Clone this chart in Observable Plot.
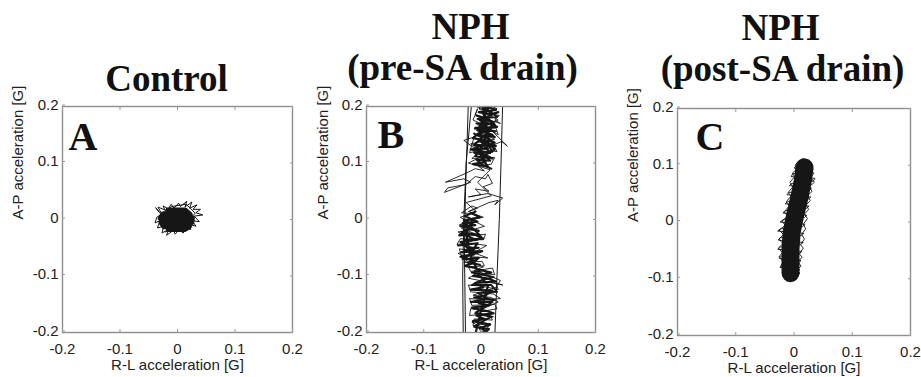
<!DOCTYPE html>
<html><head><meta charset="utf-8">
<script src="https://cdn.jsdelivr.net/npm/d3@7"></script>
<script src="https://cdn.jsdelivr.net/npm/@observablehq/plot@0.6"></script>
<style>
html,body{margin:0;padding:0;background:#fff;}
#wrap{position:relative;width:921px;height:377px;overflow:hidden;background:#fff;}
.panel{position:absolute;top:0;}
</style></head><body><div id="wrap"></div>
<script>
// ---- tick values / labels ----
const ticks = [-0.2, -0.1, 0, 0.1, 0.2];
const xLabel = "R-L acceleration [G]";
const yLabel = "A-P acceleration [G]";
const panelLetters = ["A", "B", "C"];
const titleTop = ["", "NPH", "NPH"];
const titleBottom = ["Control", "(pre-SA drain)", "(post-SA drain)"];

// ---- Panel A (Control) : [R-L, A-P] in G ----
const aCore = [[-0.016,0.016],[0.013,0.016],[0.021,0.009],[-0.025,0.009],[-0.029,0.002],[0.025,0.002],[0.024,-0.005],[-0.028,-0.005],[-0.023,-0.012],[0.020,-0.012],[0.012,-0.017],[-0.015,-0.017]];
const aFuzz = [[-0.032,0.013],[-0.038,0.021],[-0.028,0.009],[-0.036,0.004],[-0.039,-0.006],[-0.030,-0.002],[-0.035,-0.015],[-0.024,-0.012],[-0.027,-0.024],[-0.015,-0.017],[-0.019,-0.028],[-0.007,-0.019],[-0.004,-0.026],[0.003,-0.018],[0.010,-0.024],[0.013,-0.014],[0.023,-0.018],[0.020,-0.008],[0.032,-0.012],[0.026,-0.002],[0.038,-0.004],[0.029,0.006],[0.044,0.008],[0.032,0.012],[0.040,0.018],[0.027,0.018],[0.034,0.026],[0.021,0.020],[0.025,0.031],[0.013,0.022],[0.016,0.032],[0.005,0.023],[0.002,0.029],[-0.006,0.020],[-0.011,0.027],[-0.016,0.019],[-0.025,0.024],[-0.022,0.017],[-0.034,0.022],[-0.028,0.011],[-0.010,0.023],[0.015,0.027],[0.031,0.011],[0.005,-0.014],[-0.021,-0.022]];

// ---- Panel B (NPH pre-SA drain) ----
const bCoreTop = [[0.004,0.202],[0.026,0.194],[-0.004,0.190],[0.018,0.186],[0.030,0.190],[0.006,0.180],[-0.008,0.184],[0.022,0.172],[0.010,0.168],[-0.002,0.176],[0.028,0.164],[-0.010,0.162],[0.014,0.156],[0.020,0.166],[-0.004,0.150],[0.024,0.146],[0.002,0.158],[-0.014,0.144],[0.018,0.138],[0.008,0.150],[-0.012,0.132],[0.026,0.130],[-0.002,0.140],[0.012,0.126],[-0.018,0.124],[0.016,0.118],[0.004,0.132],[-0.010,0.112],[0.020,0.108],[-0.004,0.120],[0.008,0.102],[-0.014,0.098],[0.012,0.094],[0.000,0.110],[0.024,0.124],[0.006,0.142],[0.016,0.160],[0.000,0.170],[0.012,0.196],[-0.006,0.200]];
const bCoreTop2 = [[0.020,0.204],[-0.002,0.196],[0.014,0.192],[0.028,0.182],[-0.006,0.178],[0.016,0.174],[0.004,0.186],[0.024,0.168],[-0.008,0.170],[0.010,0.160],[0.026,0.156],[-0.006,0.158],[0.020,0.150],[0.000,0.146],[-0.012,0.152],[0.014,0.142],[0.024,0.136],[-0.008,0.128],[0.010,0.136],[0.020,0.120],[-0.012,0.118],[0.006,0.114],[0.016,0.104],[-0.008,0.106],[0.004,0.096],[0.018,0.090]];
const bCoreMid = [[-0.018,0.012],[-0.002,0.004],[-0.030,-0.002],[-0.010,-0.010],[-0.036,-0.012],[-0.004,-0.020],[-0.024,-0.016],[-0.038,-0.028],[-0.012,-0.026],[0.004,-0.034],[-0.030,-0.036],[-0.020,-0.044],[-0.040,-0.046],[-0.006,-0.042],[-0.014,-0.054],[-0.034,-0.058],[0.002,-0.056],[-0.022,-0.064],[-0.032,-0.070],[-0.004,-0.068],[-0.016,-0.078],[-0.028,-0.082],[-0.008,-0.086],[-0.020,-0.060],[-0.026,-0.024],[-0.014,0.002]];
const bCoreMid2 = [[-0.010,0.014],[-0.028,0.006],[-0.006,-0.004],[-0.032,-0.006],[-0.016,-0.014],[-0.002,-0.028],[-0.034,-0.022],[-0.018,-0.032],[-0.006,-0.036],[-0.036,-0.040],[-0.024,-0.050],[-0.004,-0.050],[-0.028,-0.054],[-0.012,-0.062],[-0.036,-0.066],[-0.010,-0.074],[-0.024,-0.076],[-0.002,-0.080]];
const bCoreLow = [[-0.006,-0.088],[0.018,-0.094],[-0.014,-0.100],[0.010,-0.104],[0.026,-0.110],[-0.010,-0.112],[0.004,-0.120],[-0.018,-0.124],[0.020,-0.126],[0.008,-0.134],[-0.012,-0.138],[0.024,-0.142],[-0.004,-0.148],[0.014,-0.152],[-0.016,-0.156],[0.010,-0.162],[0.022,-0.166],[-0.008,-0.170],[0.006,-0.176],[-0.014,-0.180],[0.016,-0.186],[-0.002,-0.192],[0.010,-0.198],[-0.010,-0.204],[0.000,-0.160],[0.012,-0.118],[-0.004,-0.096]];
const bCoreLow2 = [[0.004,-0.090],[-0.016,-0.094],[0.022,-0.102],[0.000,-0.108],[-0.016,-0.116],[0.018,-0.116],[0.028,-0.128],[-0.006,-0.130],[0.012,-0.140],[-0.018,-0.146],[0.020,-0.146],[0.004,-0.156],[-0.010,-0.166],[0.018,-0.172],[0.000,-0.182],[-0.012,-0.190],[0.014,-0.194],[0.002,-0.204]];
const bScribble = [[0.010,0.205],[0.028,0.196],[0.012,0.188],[0.032,0.184],[0.024,0.176],[0.034,0.170],[0.008,0.178],[-0.010,0.186],[-0.006,0.196],[-0.014,0.176],[0.004,0.168],[-0.012,0.160],[0.026,0.162],[0.030,0.150],[0.020,0.156],[0.046,0.130],[0.036,0.138],[0.022,0.132],[0.028,0.120],[-0.014,0.128],[-0.030,0.140],[-0.012,0.146],[-0.020,0.118],[0.002,0.124],[-0.016,0.108],[0.024,0.110],[0.018,0.098],[-0.004,0.094],[0.006,0.086],[-0.010,0.090],[-0.026,0.082],[-0.062,0.066],[-0.030,0.072],[-0.018,0.066],[-0.064,0.048],[-0.058,0.056],[-0.026,0.062],[-0.010,0.076],[0.008,0.072],[0.012,0.080],[0.020,0.064],[0.004,0.058],[0.014,0.050],[-0.010,0.054],[0.000,0.044],[-0.022,0.040],[0.012,0.046],[0.038,0.038],[0.024,0.026],[0.030,0.034],[0.014,0.030],[-0.022,0.014],[-0.006,0.020],[-0.016,0.024],[-0.034,0.012],[-0.012,0.010],[0.004,0.004],[-0.024,-0.002],[-0.038,-0.010],[-0.010,-0.004],[0.006,-0.012],[-0.014,-0.018],[-0.040,-0.022],[-0.026,-0.030],[0.008,-0.026],[0.004,-0.036],[-0.036,-0.034],[-0.042,-0.044],[-0.018,-0.042],[0.010,-0.046],[-0.008,-0.056],[-0.038,-0.052],[-0.034,-0.064],[-0.010,-0.060],[0.012,-0.068],[-0.016,-0.066],[-0.030,-0.076],[0.002,-0.074],[0.006,-0.082],[-0.022,-0.084],[-0.018,-0.092],[0.020,-0.086],[0.024,-0.098],[-0.006,-0.094],[-0.022,-0.104],[0.008,-0.110],[0.038,-0.116],[0.026,-0.112],[0.030,-0.124],[0.002,-0.118],[-0.022,-0.116],[-0.018,-0.128],[0.022,-0.132],[0.034,-0.140],[0.010,-0.142],[-0.020,-0.140],[-0.016,-0.152],[0.024,-0.150],[0.028,-0.158],[0.006,-0.162],[-0.018,-0.158],[-0.020,-0.170],[0.014,-0.166],[0.020,-0.178],[-0.012,-0.176],[-0.014,-0.188],[0.016,-0.184],[0.010,-0.194],[-0.004,-0.192],[0.004,-0.205]];
const bScribble2 = [[-0.008,-0.205],[0.012,-0.196],[-0.016,-0.182],[0.022,-0.172],[-0.010,-0.164],[0.030,-0.146],[0.018,-0.138],[-0.014,-0.134],[0.026,-0.120],[0.034,-0.108],[0.016,-0.100],[-0.012,-0.090],[0.004,-0.084],[-0.020,-0.072],[-0.040,-0.060],[-0.014,-0.050],[-0.030,-0.044],[0.002,-0.030],[-0.034,-0.016],[-0.020,-0.006],[-0.036,0.004],[-0.008,0.014],[-0.026,0.030],[0.018,0.042],[-0.006,0.066],[0.016,0.088],[-0.022,0.100],[0.010,0.116],[-0.018,0.134],[0.024,0.142],[-0.008,0.158],[0.030,0.176],[0.004,0.190],[0.026,0.204]];
const bJumps = [[-0.016,0.21],[-0.026,0.1],[-0.030,0.0],[-0.032,-0.1],[-0.031,-0.21],[0.024,-0.21],[0.028,-0.1],[0.032,0.0],[0.035,0.1],[0.038,0.21],[-0.022,0.21],[-0.027,0.05],[-0.029,-0.05],[-0.027,-0.21]];

// ---- Panel C (NPH post-SA drain) ----
const cCore = [[0.018,0.096],[0.015,0.072],[0.009,0.042],[0.002,0.012],[-0.004,-0.018],[-0.006,-0.048],[-0.006,-0.076],[-0.006,-0.090]];
const cZig = [[0.014,0.110],[0.024,0.106],[0.030,0.102],[0.004,0.099],[0.000,0.095],[0.033,0.092],[0.028,0.088],[-0.002,0.085],[-0.005,0.080],[0.036,0.077],[0.033,0.072],[-0.004,0.068],[-0.008,0.064],[0.030,0.060],[0.027,0.056],[-0.009,0.052],[-0.012,0.048],[0.029,0.044],[0.024,0.040],[-0.011,0.036],[-0.015,0.032],[0.026,0.028],[0.021,0.024],[-0.014,0.020],[-0.019,0.016],[0.022,0.012],[0.018,0.008],[-0.017,0.004],[-0.024,0.000],[0.019,-0.004],[0.015,-0.008],[-0.022,-0.012],[-0.028,-0.016],[0.017,-0.020],[0.013,-0.024],[-0.024,-0.028],[-0.027,-0.032],[0.016,-0.036],[0.011,-0.040],[-0.023,-0.044],[-0.028,-0.048],[0.013,-0.052],[0.010,-0.056],[-0.022,-0.060],[-0.025,-0.064],[0.012,-0.068],[0.008,-0.072],[-0.021,-0.076],[-0.024,-0.080],[0.010,-0.084],[0.006,-0.088],[-0.018,-0.092],[-0.019,-0.096],[0.004,-0.099],[0.000,-0.103],[-0.012,-0.104]];
const cEdge = [[0.004,-0.098],[0.010,-0.090],[0.005,-0.084],[0.012,-0.078],[0.007,-0.070],[0.014,-0.062],[0.009,-0.056],[0.016,-0.046],[0.011,-0.040],[0.018,-0.030],[0.013,-0.022],[0.020,-0.012],[0.016,-0.004],[0.023,0.006],[0.018,0.014],[0.025,0.022],[0.021,0.030],[0.028,0.038],[0.023,0.046],[0.031,0.054],[0.026,0.062],[0.035,0.070],[0.029,0.078],[0.034,0.086],[0.027,0.094],[0.031,0.100],[0.022,0.108],[0.016,0.112],[0.008,0.108],[0.002,0.100],[0.006,0.094],[-0.003,0.086],[0.001,0.080],[-0.007,0.070],[-0.002,0.062],[-0.010,0.052],[-0.005,0.046],[-0.013,0.036],[-0.008,0.028],[-0.017,0.018],[-0.011,0.010],[-0.021,0.002],[-0.015,-0.006],[-0.026,-0.014],[-0.018,-0.022],[-0.026,-0.030],[-0.019,-0.038],[-0.027,-0.046],[-0.020,-0.054],[-0.026,-0.062],[-0.018,-0.070],[-0.023,-0.078],[-0.016,-0.086],[-0.020,-0.094],[-0.011,-0.100],[-0.006,-0.106]];

// ---- layout (pixels) ----
const SANS = "Liberation Sans, Arial, Helvetica, sans-serif";
const SERIF = "Liberation Serif, Times New Roman, serif";
const INK = "#161616";
const layouts = [
  {left:0,   width:310, ml:62, mr:18, mt:106, mb:45, letterDx:6,  letterDy:30.5, t1:null, t2:{dx:-11, dy:-16}, xlDy:33, ylDx:-44,
   series:[{data:aCore,w:6},{data:aFuzz,w:1}]},
  {left:310, width:300, ml:56, mr:15, mt:106, mb:45, letterDx:11, letterDy:29, t1:{dx:-10.5, dy:-68}, t2:{dx:-18.5, dy:-27}, xlDy:33, ylDx:-43,
   series:[{data:bJumps,w:1},{data:bCoreTop,w:2.2},{data:bCoreTop2,w:2},{data:bCoreMid,w:2.2},{data:bCoreMid2,w:2},{data:bCoreLow,w:2.2},{data:bCoreLow2,w:2},{data:bScribble,w:0.9},{data:bScribble2,w:0.9}]},
  {left:610, width:311, ml:67, mr:11, mt:108, mb:42, letterDx:18, letterDy:28.5, t1:{dx:-13.5, dy:-69}, t2:{dx:-11.5, dy:-28}, xlDy:33, ylDx:-44,
   series:[{data:cCore,w:18},{data:cZig,w:0.9},{data:cEdge,w:0.9}]}
];

const fmt = d => String(d);
const wrap = document.getElementById("wrap");

layouts.forEach((L, i) => {
  const marks = [];
  for (const s of L.series) {
    marks.push(Plot.line(s.data, {x: d => d[0], y: d => d[1], stroke: INK, strokeWidth: s.w,
      strokeLinejoin: "round", strokeLinecap: "round", clip: true}));
  }
  marks.push(Plot.frame({stroke: "#8e8e8e", strokeWidth: 1.4}));
  marks.push(Plot.axisX({ticks, anchor: "bottom", tickSize: -3, tickPadding: 14, tickFormat: fmt,
    stroke: "#9a9a9a", fill: "#222", fontSize: 15, label: null}));
  marks.push(Plot.axisX({ticks, anchor: "top", tickSize: -3, tickFormat: () => "", stroke: "#9a9a9a", label: null}));
  marks.push(Plot.axisY({ticks, anchor: "left", tickSize: -3, tickPadding: 7, dy: -1.5, tickFormat: fmt,
    stroke: "#9a9a9a", fill: "#222", fontSize: 15, label: null}));
  marks.push(Plot.axisY({ticks, anchor: "right", tickSize: -3, tickFormat: () => "", stroke: "#9a9a9a", label: null}));
  marks.push(Plot.text([xLabel], {text: d => d, frameAnchor: "bottom", dy: L.xlDy, lineAnchor: "middle",
    fontSize: 15, fill: "#222", fontFamily: SANS}));
  marks.push(Plot.text([yLabel], {text: d => d, frameAnchor: "left", dx: L.ylDx, rotate: -90, lineAnchor: "middle",
    fontSize: 15, fill: "#222", fontFamily: SANS}));
  marks.push(Plot.text([panelLetters[i]], {text: d => d, frameAnchor: "top-left", dx: L.letterDx, dy: L.letterDy,
    textAnchor: "start", lineAnchor: "middle", fontSize: 40, fontWeight: "bold", fontFamily: SERIF, fill: "#111"}));
  if (L.t1) marks.push(Plot.text([titleTop[i]], {text: d => d, frameAnchor: "top", dx: L.t1.dx, dy: L.t1.dy,
    lineAnchor: "bottom", fontSize: 37, fontWeight: "bold", fontFamily: SERIF, fill: "#111"}));
  marks.push(Plot.text([titleBottom[i]], {text: d => d, frameAnchor: "top", dx: L.t2.dx, dy: L.t2.dy,
    lineAnchor: "bottom", fontSize: 37, fontWeight: "bold", fontFamily: SERIF, fill: "#111"}));

  const chart = Plot.plot({
    width: L.width, height: 377,
    marginLeft: L.ml, marginRight: L.mr, marginTop: L.mt, marginBottom: L.mb,
    x: {domain: [-0.2, 0.2]},
    y: {domain: [-0.2, 0.2]},
    style: {fontFamily: SANS, fontSize: "15px", background: "transparent", color: "#222", overflow: "visible"},
    marks
  });
  const div = document.createElement("div");
  div.className = "panel";
  div.style.left = L.left + "px";
  div.appendChild(chart);
  wrap.appendChild(div);
});
</script>
</body></html>
